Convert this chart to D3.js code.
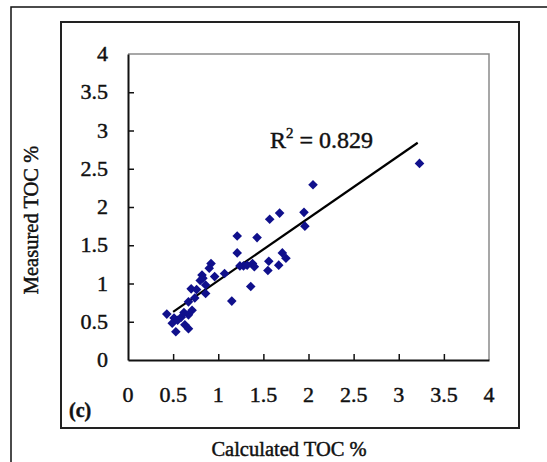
<!DOCTYPE html>
<html>
<head>
<meta charset="utf-8">
<script src="https://cdn.jsdelivr.net/npm/d3@7"></script>
<style>
  body { margin: 0; background: #fff; }
  text { font-family: "Liberation Serif", "Times New Roman", serif; fill: #111; stroke: #111; stroke-width: 0.45px; }
</style>
</head>
<body>
<div id="chart"></div>
<script>
// calculated vs measured TOC (%)
const calcToc = [3.23, 2.05, 1.95, 1.96, 1.68, 1.57, 1.21, 1.43, 1.21, 1.71, 1.75, 1.56, 1.67, 1.55, 1.38,
  1.40, 1.28, 1.24, 1.36, 1.15, 1.07, 0.92, 0.90, 0.96, 0.82, 0.80, 0.86, 0.86, 0.70, 0.74, 0.67,
  0.71, 0.67, 0.43, 0.51, 0.55, 0.49, 0.59, 0.53, 0.63, 0.67, 0.76, 0.83, 1.32, 0.62];
const measToc = [2.57, 2.29, 1.93, 1.75, 1.92, 1.84, 1.62, 1.60, 1.40, 1.40, 1.33, 1.29, 1.24, 1.17, 1.26,
  1.22, 1.23, 1.23, 0.96, 0.77, 1.13, 1.26, 1.20, 1.09, 1.11, 1.04, 0.98, 0.87, 0.93, 0.81, 0.76,
  0.65, 0.59, 0.60, 0.55, 0.52, 0.48, 0.56, 0.37, 0.46, 0.41, 0.92, 1.07, 1.24, 0.62];
const trendX = [0.5, 3.21];
const trendY = [0.63, 2.84];
const ticks = [0, 0.5, 1, 1.5, 2, 2.5, 3, 3.5, 4];

const width = 547;
const height = 462;
const plot = { left: 128, right: 489, top: 54, bottom: 360 };

const svg = d3.select("#chart").append("svg")
  .attr("width", width)
  .attr("height", height);

// outer (cropped) frame
svg.append("path")
  .attr("d", `M11,${height} V7 H${width}`)
  .style("fill", "none")
  .style("stroke", "#111")
  .style("stroke-width", 1.5);

// chart area frame
svg.append("rect")
  .attr("x", 61).attr("y", 22)
  .attr("width", 458).attr("height", 406)
  .style("fill", "#fff")
  .style("stroke", "#222")
  .style("stroke-width", 2);

const x = d3.scaleLinear().domain([0, 4]).range([plot.left, plot.right]);
const y = d3.scaleLinear().domain([0, 4]).range([plot.bottom, plot.top]);

// top and right of plot box (grey)
svg.append("path")
  .attr("d", `M${plot.left},${plot.top} H${plot.right} V${plot.bottom}`)
  .style("fill", "none")
  .style("stroke", "#8a8a8a")
  .style("stroke-width", 1.5);

const xAxis = svg.append("g")
  .attr("transform", `translate(0,${plot.bottom})`)
  .call(d3.axisBottom(x).tickValues(ticks.slice(1, -1)).tickSizeInner(-6).tickSizeOuter(0).tickFormat(""));
const yAxis = svg.append("g")
  .attr("transform", `translate(${plot.left},0)`)
  .call(d3.axisLeft(y).tickValues(ticks.slice(1, -1)).tickSizeInner(-6).tickSizeOuter(0).tickFormat(""));
[xAxis, yAxis].forEach((a) => {
  a.select(".domain").style("stroke", "#111").style("stroke-width", 2);
  a.selectAll(".tick line").style("stroke", "#111").style("stroke-width", 1.5);
});

// tick labels
svg.append("g").selectAll("text").data(ticks).enter().append("text")
  .attr("x", (d) => x(d))
  .attr("y", 402)
  .attr("text-anchor", "middle")
  .style("font-size", "22px")
  .text((d) => d);

svg.append("g").selectAll("text").data(ticks).enter().append("text")
  .attr("x", 108)
  .attr("y", (d) => y(d) + 7)
  .attr("text-anchor", "end")
  .style("font-size", "22px")
  .text((d) => d);

// trendline
svg.append("line")
  .attr("x1", x(trendX[0])).attr("y1", y(trendY[0]))
  .attr("x2", x(trendX[1])).attr("y2", y(trendY[1]))
  .style("stroke", "#000")
  .style("stroke-width", 2.2);

// points
const diamond = d3.symbol().type(d3.symbolSquare).size(46);
svg.append("g").selectAll("path").data(calcToc).enter().append("path")
  .attr("d", diamond)
  .attr("transform", (d, i) => `translate(${x(d)},${y(measToc[i])}) rotate(45)`)
  .style("fill", "#10108c");

// R² label
const r2 = svg.append("text")
  .attr("x", 270)
  .attr("y", 148)
  .style("font-size", "24px");
r2.append("tspan").text("R");
r2.append("tspan").attr("dy", -10).style("font-size", "15px").text("2");
r2.append("tspan").attr("dy", 10).text(" = 0.829");

// panel letter
svg.append("text")
  .attr("x", 69)
  .attr("y", 417)
  .style("font-size", "20px")
  .style("font-weight", "bold")
  .text("(c)");

// axis titles
svg.append("text")
  .attr("x", 289)
  .attr("y", 456)
  .attr("text-anchor", "middle")
  .style("font-size", "20.5px")
  .text("Calculated TOC %");

svg.append("text")
  .attr("transform", "translate(38,220) rotate(-90)")
  .attr("text-anchor", "middle")
  .style("font-size", "20.5px")
  .text("Measured TOC %");
</script>
</body>
</html>
